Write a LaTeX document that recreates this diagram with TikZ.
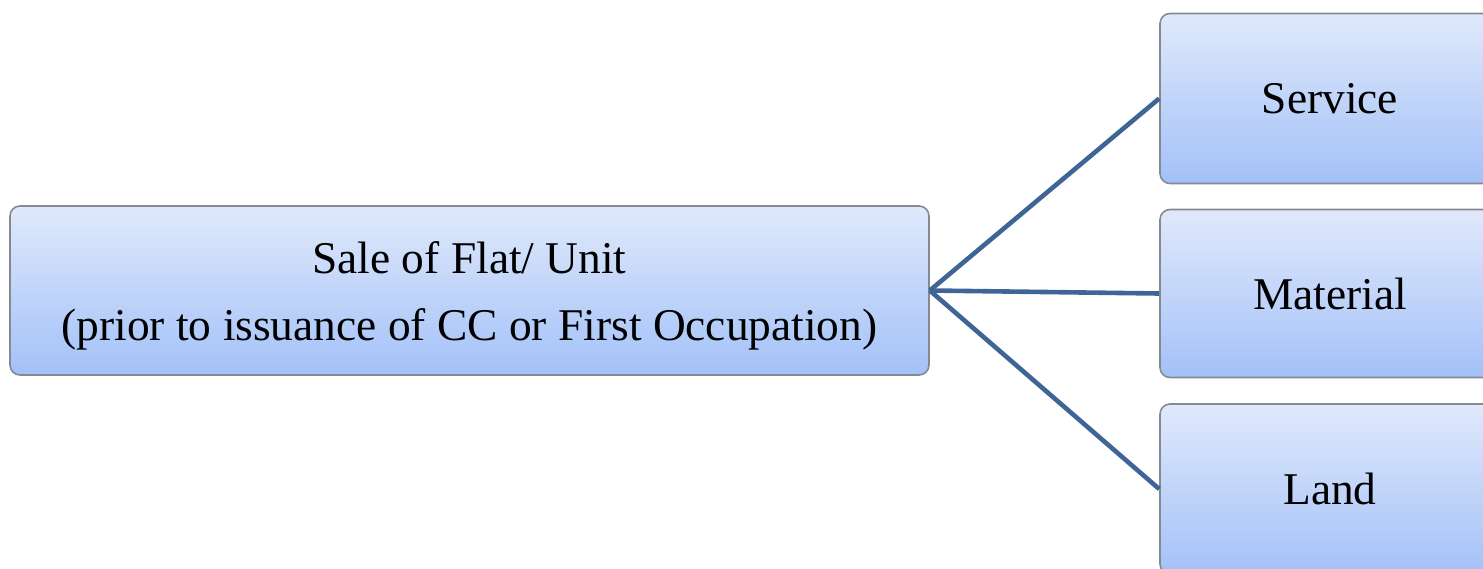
\documentclass[tikz,border=0pt]{standalone}
\usepackage{fontspec}
\setmainfont{Liberation Serif}
\definecolor{boxtop}{HTML}{E0E9FB}
\definecolor{boxbot}{HTML}{A3C1F8}
\definecolor{boxline}{HTML}{858A92}
\definecolor{conn}{HTML}{3F6496}
\tikzset{
  gbox/.style={draw=boxline, line width=0.8pt, rounded corners=5pt, top color=boxtop, bottom color=boxbot,
    inner sep=0pt, align=center, font=\fontsize{22.7}{33.5}\selectfont},
  link/.style={draw=conn, line width=2.3pt}
}
\begin{document}
\begin{tikzpicture}[x=0.5pt,y=-0.5pt]
\useasboundingbox (0,0) rectangle (1483,568);
\clip (0,0) rectangle (1483,568);
\node[gbox, minimum width=459.5pt, minimum height=84.5pt] (sale) at (469.5,290.5) {\setlength{\tabcolsep}{0pt}\begin{tabular}{c}\rule{0pt}{26.5pt}Sale of Flat/ Unit\\(prior to issuance of CC or First Occupation)\end{tabular}};
\node[gbox, minimum width=170pt, minimum height=85pt] (service) at (1330,98.5) {Service};
\node[gbox, minimum width=170pt, minimum height=84pt] (material) at (1330,293.5) {Material};
\node[gbox, minimum width=170pt, minimum height=85pt] (land) at (1330,489) {Land};
\draw[link] (sale.east) -- (service.west);
\draw[link] (sale.east) -- (material.west);
\draw[link] (sale.east) -- (land.west);
\end{tikzpicture}
\end{document}
